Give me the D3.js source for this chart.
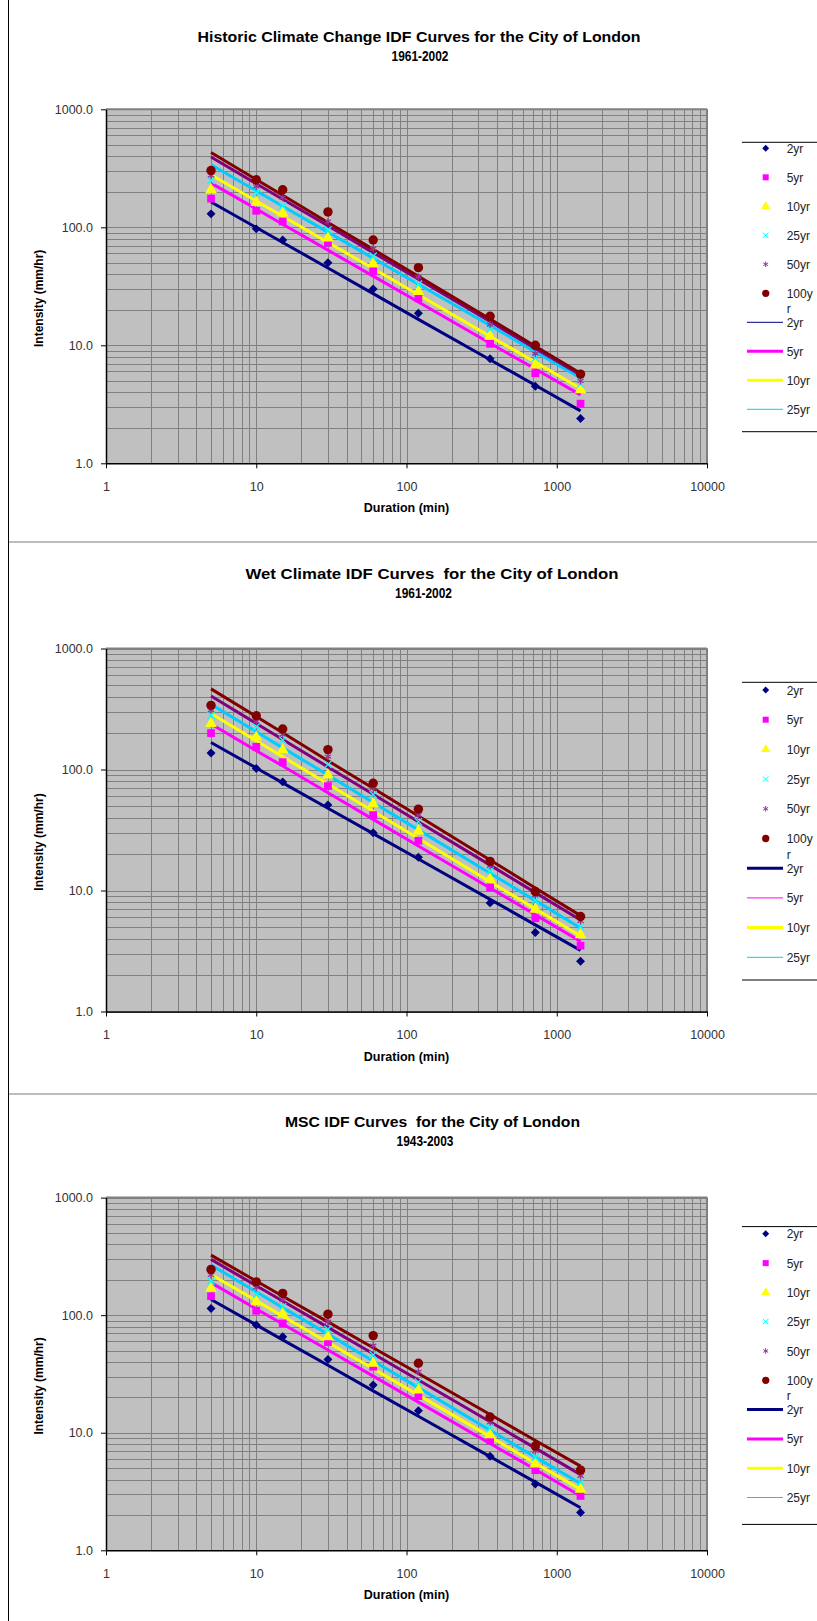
<!DOCTYPE html>
<html><head><meta charset="utf-8">
<script src="https://cdn.jsdelivr.net/npm/d3@7"></script>
<style>
html,body{margin:0;padding:0;background:#fff;}
svg{display:block;font-family:"Liberation Sans",Arial,sans-serif;}
</style></head>
<body>
<script>
// ---------- data ----------
const durations = [5, 10, 15, 30, 60, 120, 360, 720, 1440];
const returnPeriods = ["2yr", "5yr", "10yr", "25yr", "50yr", "100yr"];
const xTickValues = [1, 10, 100, 1000, 10000];
const xTickLabels = ["1", "10", "100", "1000", "10000"];
const yTickValues = [1, 10, 100, 1000];
const yTickLabels = ["1.0", "10.0", "100.0", "1000.0"];

// observed intensities (mm/hr), one row per return period
const historicPoints = [
  [130, 97, 78, 50, 30, 18.7, 7.7, 4.5, 2.4],
  [175, 138, 112, 74, 42.5, 25, 10.3, 5.8, 3.2],
  [208, 162, 132, 81, 49, 28.5, 11.9, 6.8, 4.2],
  [250, 195, 152, 95, 57, 33, 13.8, 7.8, 4.7],
  [275, 222, 178, 112, 66, 38, 15, 8.5, 5.0],
  [303, 253, 208, 135, 78, 45.5, 17.6, 10, 5.7]
];
const historicFit = [
  [164, 99.6, 74.4, 45.2, 27.4, 16.6, 7.55, 4.58, 2.78],
  [237, 143, 106, 64, 38.6, 23.3, 10.4, 6.3, 3.8],
  [279, 167, 124, 74.5, 44.7, 26.8, 11.9, 7.2, 4.3],
  [339, 204, 151, 91, 54.7, 32.9, 14.7, 8.8, 5.3],
  [394, 234, 173, 103, 61, 36.3, 15.9, 9.4, 5.6],
  [431, 254, 187, 110, 65, 38.4, 16.7, 9.8, 5.8]
];
const wetPoints = [
  [137, 102, 79, 51, 30, 18.8, 7.9, 4.5, 2.6],
  [200, 154, 115, 73, 42, 25.8, 10.6, 5.9, 3.5],
  [240, 185, 145, 90, 52, 31, 12.4, 7.0, 4.3],
  [280, 225, 175, 110, 62, 37, 14.6, 8.3, 5.0],
  [310, 250, 195, 128, 70, 42, 16, 9.1, 5.6],
  [339, 278, 216, 146, 77, 47, 17.4, 9.8, 6.1]
];
const wetFit = [
  [167, 103, 77.6, 47.8, 29.5, 18.2, 8.45, 5.2, 3.2],
  [238, 143, 107, 64.3, 38.7, 23.3, 10.5, 6.3, 3.8],
  [290, 173, 127.5, 76, 45.2, 26.9, 11.8, 7.05, 4.2],
  [346, 205, 151, 90, 53.4, 31.7, 13.9, 8.25, 4.9],
  [405, 240, 177, 105, 62.4, 37, 16.2, 9.6, 5.7],
  [464, 274, 201, 118, 70, 41.2, 17.9, 10.5, 6.2]
];
const mscPoints = [
  [114, 82.4, 65.5, 42, 25.5, 15.4, 6.3, 3.66, 2.1],
  [145, 109, 85, 59, 36.4, 20.5, 8.6, 4.8, 2.9],
  [169, 130, 102, 65.5, 39, 23, 9.6, 5.4, 3.3],
  [195, 150, 118, 76, 46, 27, 11, 6.2, 3.8],
  [220, 172, 135, 88, 55, 33, 12.3, 7.0, 4.3],
  [245, 192, 153, 102, 67, 39, 13.6, 7.7, 4.8]
];
const mscFit = [
  [136, 82.6, 61.7, 37.5, 22.7, 13.8, 6.26, 3.8, 2.3],
  [189, 113, 84, 50.5, 30.3, 18.2, 8.1, 4.86, 2.9],
  [222, 133, 98, 58.7, 35, 20.9, 9.26, 5.5, 3.3],
  [267, 158, 116, 69, 40.8, 24.2, 10.5, 6.2, 3.7],
  [298, 178, 132, 78.7, 47, 28.1, 12.4, 7.4, 4.4],
  [324, 195, 145, 87.6, 52.8, 31.9, 14.3, 8.6, 5.2]
];
const titles = [
  ["Historic Climate Change IDF Curves for the City of London", "1961-2002"],
  ["Wet Climate IDF Curves  for the City of London", "1961-2002"],
  ["MSC IDF Curves  for the City of London", "1943-2003"]
];
const legendLabels = ["2yr", "5yr", "10yr", "25yr", "50yr", "100y", "2yr", "5yr", "10yr", "25yr"];

// ---------- styles ----------
const markerColors = ["#000080", "#FF00FF", "#FFFF00", "#00FFFF", "#993399", "#800000"];
const lineColors = ["#000080", "#FF00FF", "#FFFF00", "#00CCFF", "#800080", "#800000"];
const markerTypes = [d3.symbolSquare, d3.symbolSquare, d3.symbolTriangle, d3.symbolX, d3.symbolAsterisk, d3.symbolCircle];
const markerRot = [45, 0, 0, 0, 0, 0];
const markerSizes = [40, 60, 60, 36, 36, 70];
const strokeMarker = [false, false, false, true, true, false];

const layouts = [
  {top: 109.3, bottom: 463.3, t1x: 419, t2x: 420, titleY: 42, t1w: 443, t2w: 57, legTop: 142.3, legBottom: 431.7, legY0: 148.3, legStep: 29, legW: [1, 3, 3, 1], points: historicPoints, fit: historicFit},
  {top: 648.5, bottom: 1011.5, t1x: 432, t2x: 423.5, titleY: 579, t1w: 373, t2w: 57, legTop: 682.3, legBottom: 980, legY0: 690, legStep: 29.7, legW: [3, 1, 3, 1], points: wetPoints, fit: wetFit},
  {top: 1197.6, bottom: 1550.3, t1x: 432.5, t2x: 425, titleY: 1127, t1w: 295, t2w: 57, legTop: 1226.6, legBottom: 1524.4, legY0: 1233.8, legStep: 29.3, legW: [3, 3, 3, 1], points: mscPoints, fit: mscFit}
];
const plotLeft = 106, plotRight = 707;

const svg = d3.select("body").append("svg").attr("width", 817).attr("height", 1621);

// frame lines
svg.append("line").attr("x1", 8.5).attr("x2", 8.5).attr("y1", 0).attr("y2", 1621).attr("stroke", "#000").attr("stroke-width", 1);
[542, 1094].forEach(y => svg.append("line").attr("x1", 9).attr("x2", 817).attr("y1", y).attr("y2", y).attr("stroke", "#a6a6a6").attr("stroke-width", 1.5));

layouts.forEach((L, ci) => {
  const g = svg.append("g");
  const x = d3.scaleLog().domain([1, 10000]).range([plotLeft, plotRight]);
  const y = d3.scaleLog().domain([1, 1000]).range([L.bottom, L.top]);

  // plot background
  g.append("rect").attr("x", plotLeft).attr("y", L.top).attr("width", plotRight - plotLeft).attr("height", L.bottom - L.top).attr("fill", "#C0C0C0");

  // gridlines
  const xGrid = x.ticks(), yGrid = y.ticks();
  g.append("g").selectAll("line").data(xGrid).join("line")
    .attr("x1", d => Math.round(x(d)) + 0.5).attr("x2", d => Math.round(x(d)) + 0.5)
    .attr("y1", L.top).attr("y2", L.bottom).attr("stroke", "#808080").attr("stroke-width", 1);
  g.append("g").selectAll("line").data(yGrid).join("line")
    .attr("y1", d => Math.round(y(d)) + 0.5).attr("y2", d => Math.round(y(d)) + 0.5)
    .attr("x1", plotLeft).attr("x2", plotRight).attr("stroke", "#808080").attr("stroke-width", 1);
  // top/right border
  g.append("line").attr("x1", plotLeft).attr("x2", plotRight).attr("y1", L.top).attr("y2", L.top).attr("stroke", "#808080").attr("stroke-width", 2);
  g.append("line").attr("x1", plotRight).attr("x2", plotRight).attr("y1", L.top).attr("y2", L.bottom).attr("stroke", "#808080").attr("stroke-width", 2);

  // axes
  const xAxis = d3.axisBottom(x).tickValues(xTickValues).tickFormat((d, i) => xTickLabels[i]).tickSizeInner(5).tickSizeOuter(0).tickPadding(14);
  const yAxis = d3.axisLeft(y).tickValues(yTickValues).tickFormat((d, i) => yTickLabels[i]).tickSizeInner(5).tickSizeOuter(0).tickPadding(8);
  const gx = g.append("g").attr("transform", `translate(0,${L.bottom})`).call(xAxis);
  const gy = g.append("g").attr("transform", `translate(${plotLeft},0)`).call(yAxis);
  [gx, gy].forEach(a => {
    a.select(".domain").attr("stroke", "#000").attr("stroke-width", 1.5);
    a.selectAll(".tick line").attr("stroke", "#000");
    a.selectAll(".tick text").attr("fill", "#333").attr("font-size", 12.5).attr("font-family", "Liberation Sans, Arial, sans-serif");
  });

  // fitted lines
  const line = d3.line().x((d, i) => x(durations[i])).y(d => y(d));
  g.append("g").selectAll("path").data(L.fit).join("path")
    .attr("d", d => line(d)).attr("fill", "none")
    .attr("stroke", (d, i) => lineColors[i]).attr("stroke-width", 3).attr("stroke-linejoin", "round");

  // markers
  L.points.forEach((row, si) => {
    const sym = d3.symbol().type(markerTypes[si]).size(markerSizes[si]);
    g.append("g").selectAll("path").data(row).join("path")
      .attr("transform", (d, i) => `translate(${x(durations[i])},${y(d)}) rotate(${markerRot[si]})`)
      .attr("d", sym)
      .attr("fill", strokeMarker[si] ? "none" : markerColors[si])
      .attr("stroke", strokeMarker[si] ? markerColors[si] : "none")
      .attr("stroke-width", 1.3);
  });

  // titles
  g.append("text").attr("x", L.t1x).attr("y", L.titleY).attr("text-anchor", "middle")
    .attr("font-size", 15).attr("font-weight", "bold").style("white-space", "pre")
    .attr("textLength", L.t1w).attr("lengthAdjust", "spacingAndGlyphs").text(titles[ci][0]);
  g.append("text").attr("x", L.t2x).attr("y", L.titleY + 18.5).attr("text-anchor", "middle")
    .attr("font-size", 15).attr("font-weight", "bold")
    .attr("textLength", L.t2w).attr("lengthAdjust", "spacingAndGlyphs").text(titles[ci][1]);
  // axis titles
  g.append("text").attr("x", (plotLeft + plotRight) / 2).attr("y", L.bottom + 49).attr("text-anchor", "middle")
    .attr("font-size", 12.5).attr("font-weight", "bold").text("Duration (min)");
  const cy = (L.top + L.bottom) / 2 + 12;
  g.append("text").attr("transform", `translate(43,${cy}) rotate(-90)`).attr("text-anchor", "middle")
    .attr("font-size", 12).attr("font-weight", "bold").text("Intensity (mm/hr)");

  // legend
  const lg = g.append("g");
  lg.append("line").attr("x1", 742).attr("x2", 817).attr("y1", L.legTop).attr("y2", L.legTop).attr("stroke", "#000");
  lg.append("line").attr("x1", 742).attr("x2", 817).attr("y1", L.legBottom).attr("y2", L.legBottom).attr("stroke", "#000");
  legendLabels.forEach((lab, i) => {
    const yy = L.legY0 + i * L.legStep;
    if (i < 6) {
      const sym = d3.symbol().type(markerTypes[i]).size(markerSizes[i] * 0.6);
      lg.append("path").attr("transform", `translate(765.7,${yy}) rotate(${markerRot[i]})`).attr("d", sym)
        .attr("fill", strokeMarker[i] ? "none" : markerColors[i])
        .attr("stroke", strokeMarker[i] ? markerColors[i] : "none").attr("stroke-width", 1);
    } else {
      const k = i - 6;
      lg.append("line").attr("x1", 747).attr("x2", 783).attr("y1", yy).attr("y2", yy)
        .attr("stroke", lineColors[k]).attr("stroke-width", L.legW[k]);
    }
    lg.append("text").attr("x", 786.7).attr("y", yy + 4.5).attr("font-size", 12).attr("fill", "#222").text(lab);
    if (i === 5) lg.append("text").attr("x", 786.7).attr("y", yy + 20).attr("font-size", 12).attr("fill", "#222").text("r");
  });
});
</script>
</body></html>
